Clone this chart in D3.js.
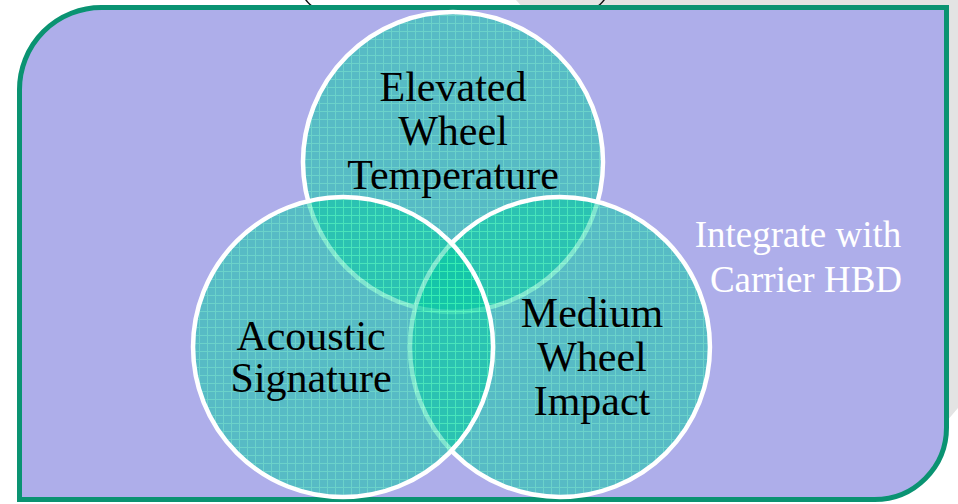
<!DOCTYPE html>
<html><head><meta charset="utf-8">
<script src="https://cdn.jsdelivr.net/npm/d3@7"></script>
<style>html,body{margin:0;padding:0;background:#fff;overflow:hidden}</style>
</head><body>
<svg id="c" width="958" height="504"></svg>
<script>
// Data
const setNames = ["Elevated Wheel Temperature", "Acoustic Signature", "Medium Wheel Impact"];
const setLabelLines = [["Elevated", "Wheel", "Temperature"], ["Acoustic", "Signature"], ["Medium", "Wheel", "Impact"]];
const noteLines = ["Integrate with", "Carrier HBD"];

// Layout (abstract units, circle radius = 1)
const sx = d3.scaleLinear().domain([-1, 1]).range([303, 603]);
const sy = d3.scaleLinear().domain([-1, 1]).range([197, 497]);
const R = sx(1) - sx(0);
const centers = [[0, -1.233], [-0.733, 0], [0.713, 0]];
const labelOffsets = [[0, -61, 44], [-32, 3, 42], [32, -20, 44]]; // dx, first baseline dy, line step
const noteX = [798, 806];
const drawOrder = [0, 2, 1];

const svg = d3.select("#c");
const defs = svg.append("defs");
const pat = defs.append("pattern").attr("id", "grid").attr("patternUnits", "userSpaceOnUse")
  .attr("width", 8).attr("height", 8);
pat.append("rect").attr("width", 8).attr("height", 8).attr("fill", "rgb(0,200,160)");
pat.append("rect").attr("x", 0).attr("y", 7).attr("width", 8).attr("height", 1).attr("fill", "rgb(40,245,170)");
pat.append("rect").attr("x", 7).attr("y", 0).attr("width", 1).attr("height", 8).attr("fill", "rgb(40,245,170)");

// shadow
svg.append("polygon")
  .attr("points", "516,0 958,0 958,408 946,422 946,9 524,9")
  .attr("fill", "#e3e3e3");

// shape peeking at top
svg.append("rect").attr("x", 298).attr("y", -80).attr("width", 314).attr("height", 96)
  .attr("rx", 40).attr("ry", 40).attr("fill", "none").attr("stroke", "#111").attr("stroke-width", 1.5);

// main rounded panel
const x0 = 19.5, y0 = 7.5, x1 = 946.5, y1 = 499.5, rTL = 82, rBR = 72;
const p = d3.path();
p.moveTo(x0 + rTL, y0);
p.lineTo(x1, y0);
p.lineTo(x1, y1 - rBR);
p.arcTo(x1, y1, x1 - rBR, y1, rBR);
p.lineTo(x0, y1);
p.lineTo(x0, y0 + rTL);
p.arcTo(x0, y0, x0 + rTL, y0, rTL);
p.closePath();
svg.append("path").attr("d", p.toString()).attr("fill", "#aeaeea")
  .attr("stroke", "#0a9372").attr("stroke-width", 5);

// circles
const g = svg.append("g");
drawOrder.forEach(i => {
  const cx = sx(centers[i][0]), cy = sy(centers[i][1]);
  g.append("circle").attr("cx", cx).attr("cy", cy).attr("r", R)
    .attr("fill", "url(#grid)").attr("fill-opacity", 0.5)
    .attr("stroke", "#fff").attr("stroke-width", 4.5)
    .append("title").text(setNames[i]);
});

// labels
setLabelLines.forEach((lines, i) => {
  const cx = sx(centers[i][0]), cy = sy(centers[i][1]);
  const [dx, dy, step] = labelOffsets[i];
  const t = svg.append("text").attr("text-anchor", "middle")
    .attr("font-family", "'Liberation Serif', 'Times New Roman', serif")
    .attr("font-size", 42).attr("fill", "#000");
  lines.forEach((ln, k) => {
    t.append("tspan").attr("x", cx + dx).attr("y", cy + dy + k * step).text(ln);
  });
});

// note
const nt = svg.append("text").attr("text-anchor", "middle")
  .attr("font-family", "'Liberation Serif', 'Times New Roman', serif")
  .attr("font-size", 37).attr("fill", "#fff");
noteLines.forEach((ln, k) => {
  nt.append("tspan").attr("x", noteX[k]).attr("y", 247 + k * 45).text(ln);
});
</script>
</body></html>
